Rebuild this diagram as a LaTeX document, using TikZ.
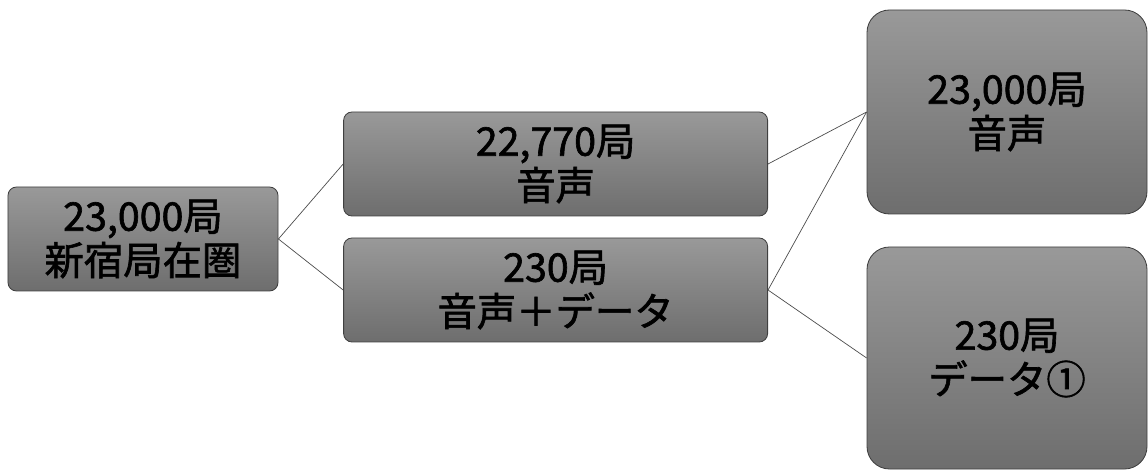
\documentclass[tikz,border=0pt]{standalone}
\usepackage{fontspec}
\setmainfont{Noto Sans CJK JP}[BoldFont={Noto Sans CJK JP}, BoldFeatures={FakeBold=1.6}]
\usetikzlibrary{positioning}
\tikzset{
  stn/.style   ={rectangle, rounded corners=6pt, draw=black!75, line width=0.6pt,
                 top color=black!40, bottom color=black!57, inner sep=0pt,
                 minimum height=2.6cm, align=center,
                 font=\fontsize{28}{31.5}\selectfont\bfseries},
  bigstn/.style={stn, rounded corners=16pt, minimum width=7.0cm},
  link/.style  ={draw=black!70, line width=0.5pt},
}
\begin{document}
\begin{tikzpicture}
\useasboundingbox (0,0) rectangle (28.7,11.75);

% --- nodes ----------------------------------------------------------
\node[stn, minimum width=6.75cm]  (root)  at (3.575,5.775)  {23,000局\\新宿局在圏};
\node[stn, minimum width=10.6cm]  (voice) at (13.89,7.65)   {22,770局\\音声};
\node[stn, minimum width=10.6cm]  (mixed) at (13.89,4.5)    {230局\\音声＋データ};
\node[bigstn, minimum height=5.1cm]  (voiceall) at (25.175,8.95) {23,000局\\音声};
\node[bigstn, minimum height=5.55cm] (data)     at (25.175,2.8)  {230局\\データ①};

% --- links ----------------------------------------------------------
\draw[link] (root.east) -- (voice.west);
\draw[link] (root.east) -- (mixed.west);
\draw[link] (voice.east) -- (voiceall.west);
\draw[link] (mixed.east) -- (voiceall.west);
\draw[link] (mixed.east) -- (data.west);
\end{tikzpicture}
\end{document}
